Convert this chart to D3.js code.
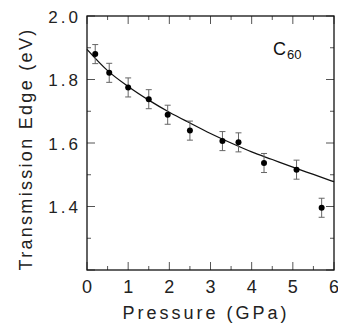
<!DOCTYPE html>
<html><head><meta charset="utf-8">
<script src="https://cdn.jsdelivr.net/npm/d3@7"></script>
<style>html,body{margin:0;padding:0;background:#fff;}</style>
</head><body>
<script>
// Data
const pressure = [0.2, 0.54, 1.0, 1.5, 1.96, 2.5, 3.29, 3.68, 4.30, 5.09, 5.70];
const edge     = [1.880, 1.821, 1.775, 1.738, 1.689, 1.639, 1.606, 1.602, 1.537, 1.516, 1.396];
const errBar   = [0.03, 0.03, 0.03, 0.03, 0.03, 0.03, 0.03, 0.03, 0.03, 0.03, 0.03];
const fitP = [0, 0.5, 1, 1.5, 2, 2.5, 3, 3.5, 4, 4.5, 5, 5.5, 6];
const fitE = [1.895, 1.828, 1.778, 1.735, 1.697, 1.663, 1.630, 1.600, 1.572, 1.548, 1.524, 1.501, 1.478];
const xTicks = [0, 1, 2, 3, 4, 5, 6];
const xMinor = [0.5, 1.5, 2.5, 3.5, 4.5, 5.5];
const yTicks = [1.4, 1.6, 1.8, 2.0];
const yMinor = [1.3, 1.5, 1.7, 1.9];
const yMajorAll = [1.2, 1.4, 1.6, 1.8, 2.0];

const W = 338, H = 324;
const L = 87, R = 334, T = 16, B = 270;
const svg = d3.select("body").append("svg").attr("width", W).attr("height", H);
const x = d3.scaleLinear().domain([0, 6]).range([L, R]);
const y = d3.scaleLinear().domain([1.2, 2.0]).range([B, T]);
const font = "'Liberation Sans', Arial, sans-serif";
const tickCol = "#555";

// ticks (inside, on all four sides)
const g = svg.append("g");
function vt(vals, len) {
  vals.forEach(v => {
    g.append("line").attr("x1", x(v)).attr("x2", x(v)).attr("y1", B).attr("y2", B - len).attr("stroke", tickCol).attr("stroke-width", 1);
    g.append("line").attr("x1", x(v)).attr("x2", x(v)).attr("y1", T).attr("y2", T + len).attr("stroke", tickCol).attr("stroke-width", 1);
  });
}
function ht(vals, len) {
  vals.forEach(v => {
    g.append("line").attr("y1", y(v)).attr("y2", y(v)).attr("x1", L).attr("x2", L + len).attr("stroke", tickCol).attr("stroke-width", 1);
    g.append("line").attr("y1", y(v)).attr("y2", y(v)).attr("x1", R).attr("x2", R - len).attr("stroke", tickCol).attr("stroke-width", 1);
  });
}
vt(xTicks, 8); vt(xMinor, 4); ht(yMajorAll, 8); ht(yMinor, 4);

// frame
svg.append("rect").attr("x", L).attr("y", T).attr("width", R - L).attr("height", B - T)
  .attr("fill", "none").attr("stroke", "#111").attr("stroke-width", 1.3);

// tick labels
svg.selectAll(".xl").data(xTicks).enter().append("text")
  .attr("x", d => x(d) + 1.5).attr("y", 293).attr("text-anchor", "middle")
  .attr("font-family", font).attr("font-size", 18).attr("letter-spacing", 3).attr("fill", "#222")
  .text(d => d);
svg.selectAll(".yl").data(yTicks).enter().append("text")
  .attr("x", 81).attr("y", d => y(d) + 6.5).attr("text-anchor", "end")
  .attr("font-family", font).attr("font-size", 17).attr("letter-spacing", 3).attr("fill", "#222")
  .text(d => d.toFixed(1));

// axis titles
svg.append("text").attr("x", 206).attr("y", 319).attr("text-anchor", "middle")
  .attr("font-family", font).attr("font-size", 18).attr("letter-spacing", 3).attr("fill", "#222")
  .text("Pressure (GPa)");
svg.append("text").attr("transform", "translate(32,149) rotate(-90)").attr("text-anchor", "middle")
  .attr("font-family", font).attr("font-size", 18).attr("letter-spacing", 2.3).attr("fill", "#222")
  .text("Transmission Edge (eV)");

// C60 label
const lab = svg.append("text").attr("x", 273).attr("y", 55).attr("font-family", font).attr("font-size", 18).attr("fill", "#111");
lab.append("tspan").text("C");
lab.append("tspan").attr("font-size", 13).attr("dy", 4).attr("dx", 1).text("60");

// fit curve
const line = d3.line().x(d => x(d[0])).y(d => y(d[1])).curve(d3.curveMonotoneX);
svg.append("path").datum(d3.zip(fitP, fitE)).attr("d", line)
  .attr("fill", "none").attr("stroke", "#111").attr("stroke-width", 1.3);

// error bars
const pts = d3.zip(pressure, edge, errBar);
const eb = svg.append("g").attr("stroke", "#666").attr("stroke-width", 1);
pts.forEach(([p, e, s]) => {
  eb.append("line").attr("x1", x(p)).attr("x2", x(p)).attr("y1", y(e - s)).attr("y2", y(e + s));
  eb.append("line").attr("x1", x(p) - 3).attr("x2", x(p) + 3).attr("y1", y(e - s)).attr("y2", y(e - s));
  eb.append("line").attr("x1", x(p) - 3).attr("x2", x(p) + 3).attr("y1", y(e + s)).attr("y2", y(e + s));
});
svg.selectAll(".pt").data(pts).enter().append("circle")
  .attr("cx", d => x(d[0])).attr("cy", d => y(d[1])).attr("r", 3).attr("fill", "#000");
</script>
</body></html>
